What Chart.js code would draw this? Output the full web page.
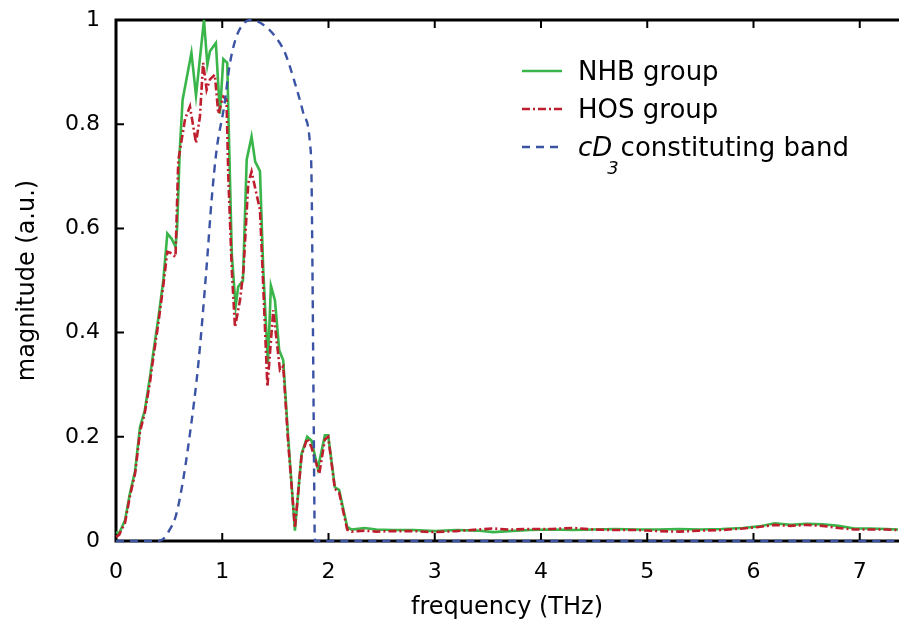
<!DOCTYPE html>
<html>
<head>
<meta charset="utf-8">
<script src="https://cdn.jsdelivr.net/npm/chart.js@4.4.1/dist/chart.umd.min.js"></script>
<style>
  html, body { margin: 0; padding: 0; background: #fff; }
  #wrap { width: 899px; height: 622px; }
</style>
</head>
<body>
<div id="wrap"><canvas id="myChart" width="899" height="622"></canvas></div>
<script>
// NHB group (green, solid)
const nhbFreq = [0, 0.03, 0.085, 0.13, 0.18, 0.226, 0.27, 0.32, 0.35, 0.40, 0.445, 0.483, 0.524, 0.56, 0.575,
  0.60, 0.627, 0.71, 0.753, 0.828, 0.86, 0.884, 0.94, 0.978, 1.01, 1.047, 1.06, 1.09, 1.126, 1.15, 1.195,
  1.23, 1.276, 1.31, 1.355, 1.386, 1.43, 1.458, 1.496, 1.536, 1.574, 1.62, 1.684, 1.747, 1.80, 1.84, 1.90,
  1.966, 1.997, 2.06, 2.10, 2.176, 2.217, 2.34, 2.45, 2.6, 2.8, 3.0, 3.2, 3.4, 3.55, 3.7, 3.9, 4.1, 4.3,
  4.5, 4.7, 4.9, 5.1, 5.3, 5.5, 5.7, 5.9, 6.05, 6.2, 6.35, 6.5, 6.65, 6.8, 6.95, 7.1, 7.25, 7.36];
const nhbMag = [0.017, 0.015, 0.04, 0.09, 0.135, 0.219, 0.25, 0.315, 0.36, 0.43, 0.50, 0.59, 0.58, 0.565, 0.60,
  0.75, 0.847, 0.937, 0.855, 1.0, 0.914, 0.94, 0.956, 0.82, 0.925, 0.918, 0.80, 0.55, 0.45, 0.488, 0.50,
  0.732, 0.776, 0.728, 0.71, 0.52, 0.34, 0.49, 0.462, 0.366, 0.347, 0.20, 0.02, 0.168, 0.20, 0.193, 0.139,
  0.203, 0.203, 0.103, 0.098, 0.027, 0.022, 0.025, 0.022, 0.021, 0.021, 0.019, 0.021, 0.020, 0.017, 0.019, 0.021, 0.022, 0.021,
  0.022, 0.023, 0.022, 0.022, 0.023, 0.022, 0.023, 0.025, 0.028, 0.034, 0.031, 0.033, 0.032, 0.029, 0.024, 0.024, 0.023, 0.022];

// HOS group (red, dash-dot)
const hosFreq = [0, 0.03, 0.085, 0.13, 0.18, 0.226, 0.27, 0.32, 0.35, 0.40, 0.445, 0.483, 0.524, 0.56, 0.586,
  0.65, 0.696, 0.753, 0.79, 0.82, 0.853, 0.884, 0.93, 0.963, 1.01, 1.04, 1.057, 1.09, 1.12, 1.167, 1.2,
  1.245, 1.276, 1.32, 1.355, 1.386, 1.425, 1.48, 1.543, 1.574, 1.62, 1.684, 1.747, 1.80, 1.84, 1.913,
  1.966, 1.997, 2.06, 2.10, 2.176, 2.217, 2.34, 2.45, 2.6, 2.8, 3.0, 3.2, 3.4, 3.55, 3.7, 3.9, 4.1, 4.3,
  4.5, 4.7, 4.9, 5.1, 5.3, 5.5, 5.7, 5.9, 6.05, 6.2, 6.35, 6.5, 6.65, 6.8, 6.95, 7.1, 7.25, 7.36];
const hosMag = [0.008, 0.012, 0.035, 0.085, 0.13, 0.21, 0.245, 0.305, 0.35, 0.42, 0.49, 0.555, 0.552, 0.545, 0.73,
  0.81, 0.834, 0.764, 0.815, 0.918, 0.866, 0.886, 0.895, 0.82, 0.853, 0.847, 0.70, 0.52, 0.41, 0.462, 0.52,
  0.687, 0.709, 0.668, 0.636, 0.488, 0.296, 0.443, 0.328, 0.335, 0.19, 0.025, 0.165, 0.197, 0.18, 0.129,
  0.195, 0.20, 0.10, 0.093, 0.022, 0.018, 0.020, 0.018, 0.019, 0.019, 0.017, 0.019, 0.022, 0.024, 0.022, 0.023, 0.023, 0.025,
  0.022, 0.021, 0.021, 0.019, 0.018, 0.020, 0.021, 0.024, 0.027, 0.031, 0.029, 0.031, 0.029, 0.025, 0.022, 0.022, 0.022, 0.021];

// cD3 constituting band (blue, dashed)
const bandFreq = [0, 0.40, 0.445, 0.50, 0.56, 0.62, 0.696, 0.775, 0.853, 0.90, 0.947, 1.02, 1.07, 1.13, 1.2,
  1.276, 1.386, 1.496, 1.59, 1.684, 1.762, 1.825, 1.84, 1.85, 1.86, 1.872, 7.36];
const bandMag = [0, 0, 0.004, 0.02, 0.046, 0.103, 0.206, 0.34, 0.527, 0.655, 0.751, 0.837, 0.914, 0.966, 0.993,
  1.0, 0.991, 0.969, 0.937, 0.879, 0.822, 0.764, 0.70, 0.5, 0.25, 0, 0];

const xTicks = [0, 1, 2, 3, 4, 5, 6, 7];
const yTicks = [0, 0.2, 0.4, 0.6, 0.8, 1];

const green = "#39b54a";
const red = "#be1e2d";
const blue = "#3b53a4";
const fontName = "'DejaVu Sans', sans-serif";

function toPoints(fs, ms) {
  return fs.map((f, i) => ({ x: f, y: ms[i] }));
}

// frame with inward ticks
const framePlugin = {
  id: "frame",
  beforeDatasetsDraw(chart) {
    const c = chart.ctx, a = chart.chartArea;
    const xs = chart.scales.x, ys = chart.scales.y;
    c.save();
    c.strokeStyle = "#000";
    c.lineWidth = 3;
    c.beginPath();
    c.moveTo(a.left - 1.5, a.top); c.lineTo(899, a.top);
    c.moveTo(a.left, a.top); c.lineTo(a.left, a.bottom);
    c.moveTo(a.left - 1.5, a.bottom); c.lineTo(899, a.bottom);
    c.stroke();
    c.lineWidth = 2;
    c.beginPath();
    xTicks.forEach(v => {
      const px = xs.getPixelForValue(v);
      c.moveTo(px, a.bottom); c.lineTo(px, a.bottom - 8);
      c.moveTo(px, a.top); c.lineTo(px, a.top + 8);
    });
    yTicks.forEach(v => {
      const py = ys.getPixelForValue(v);
      c.moveTo(a.left, py); c.lineTo(a.left + 8, py);
    });
    c.stroke();
    c.restore();
  }
};

// legend with italic cD and subscript 3
const legendPlugin = {
  id: "customLegend",
  afterDatasetsDraw(chart) {
    const c = chart.ctx;
    const x0 = 522, x1 = 562, tx = 578;
    const rows = [71, 109, 147];
    c.save();
    c.lineWidth = 2.5;
    c.strokeStyle = green; c.setLineDash([]);
    c.beginPath(); c.moveTo(x0, rows[0]); c.lineTo(x1, rows[0]); c.stroke();
    c.strokeStyle = red; c.setLineDash([8, 3, 2, 3]);
    c.beginPath(); c.moveTo(x0, rows[1]); c.lineTo(x1, rows[1]); c.stroke();
    c.strokeStyle = blue; c.setLineDash([8, 6]);
    c.beginPath(); c.moveTo(x0, rows[2]); c.lineTo(x1, rows[2]); c.stroke();
    c.setLineDash([]);

    c.fillStyle = "#000";
    c.textBaseline = "middle";
    c.font = "26px " + fontName;
    c.fillText("NHB group", tx, rows[0] + 2);
    c.fillText("HOS group", tx, rows[1] + 2);
    c.font = "italic 26px " + fontName;
    c.fillText("cD", tx, rows[2] + 2);
    const w = c.measureText("cD").width;
    c.font = "italic 18px " + fontName;
    c.fillText("3", tx + w - 5, rows[2] + 22);
    c.font = "26px " + fontName;
    c.fillText(" constituting band", tx + w, rows[2] + 2);
    c.restore();
  }
};

new Chart(document.getElementById("myChart"), {
  type: "line",
  data: {
    datasets: [
      {
        label: "NHB group",
        data: toPoints(nhbFreq, nhbMag),
        borderColor: green,
        borderWidth: 2.6,
        pointRadius: 0,
        tension: 0,
        clip: false,
        order: 3
      },
      {
        label: "HOS group",
        data: toPoints(hosFreq, hosMag),
        borderColor: red,
        borderWidth: 2.6,
        borderDash: [8, 3, 2, 3],
        pointRadius: 0,
        tension: 0,
        clip: false,
        order: 2
      },
      {
        label: "cD3 constituting band",
        data: toPoints(bandFreq, bandMag),
        borderColor: blue,
        borderWidth: 2.4,
        borderDash: [8, 6],
        pointRadius: 0,
        cubicInterpolationMode: "monotone",
        clip: false,
        order: 1
      }
    ]
  },
  options: {
    responsive: false,
    animation: false,
    layout: { padding: { top: 20, right: 1, left: 0, bottom: 0 } },
    plugins: {
      legend: { display: false },
      tooltip: { enabled: false }
    },
    scales: {
      x: {
        type: "linear",
        min: 0,
        max: 7.36,
        afterFit: (s) => { s.height = 81; },
        grid: { display: false, drawTicks: false },
        border: { display: false },
        ticks: {
          stepSize: 1,
          includeBounds: false,
          padding: 18,
          color: "#000",
          font: { family: fontName, size: 22 }
        },
        title: {
          display: true,
          text: "frequency (THz)",
          color: "#000",
          font: { family: fontName, size: 24 },
          padding: { top: 0, bottom: 0 }
        }
      },
      y: {
        min: 0,
        max: 1,
        afterFit: (s) => { s.width = 116; s.paddingTop = 0; s.paddingBottom = 0; },
        grid: { display: false, drawTicks: false },
        border: { display: false },
        ticks: {
          stepSize: 0.2,
          padding: 16,
          color: "#000",
          font: { family: fontName, size: 22 },
          callback: (v) => String(Math.round(v * 10) / 10)
        },
        title: {
          display: true,
          text: "magnitude (a.u.)",
          color: "#000",
          font: { family: fontName, size: 24 },
          padding: { top: 13, bottom: 0 }
        }
      }
    }
  },
  plugins: [framePlugin, legendPlugin]
});
</script>
</body>
</html>
